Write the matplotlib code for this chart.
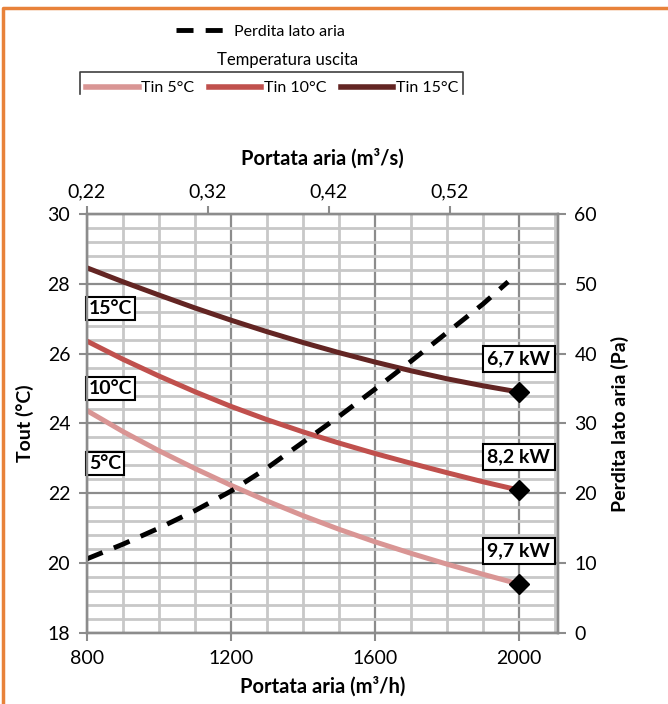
import numpy as np
import matplotlib
matplotlib.use('Agg')
import matplotlib.pyplot as plt
from matplotlib.lines import Line2D
from matplotlib.ticker import MultipleLocator, FuncFormatter

plt.rcParams['font.family'] = ['Lato', 'DejaVu Sans']

# portata aria (m3/h)
portata = [800, 900, 1000, 1100, 1200, 1300, 1400, 1500, 1600, 1700, 1800, 1900, 2000]
tout_5 = [24.37, 23.77, 23.22, 22.71, 22.23, 21.78, 21.36, 20.97, 20.61, 20.28, 19.97, 19.68, 19.40]
tout_10 = [26.36, 25.84, 25.36, 24.91, 24.49, 24.11, 23.76, 23.44, 23.14, 22.86, 22.59, 22.33, 22.09]
tout_15 = [28.46, 28.06, 27.68, 27.31, 26.96, 26.63, 26.32, 26.03, 25.76, 25.51, 25.28, 25.08, 24.90]

# perdita lato aria (Pa)
portata_pa = [800, 900, 1000, 1100, 1200, 1300, 1400, 1500, 1600, 1700, 1800, 1900, 1970]
perdita = [10.6, 12.7, 15.0, 17.5, 20.3, 23.6, 27.3, 31.0, 34.9, 38.9, 43.0, 47.1, 50.3]

serie_nomi = ['Tin 5°C', 'Tin 10°C', 'Tin 15°C']
serie_label = ['5°C', '10°C', '15°C']
potenze = ['9,7 kW', '8,2 kW', '6,7 kW']
colori = ['#d99594', '#c0504d', '#632523']

top_ticks = [0.22, 0.32, 0.42, 0.52]

fig = plt.figure(figsize=(6.68, 7.04), dpi=100)
ax = fig.add_axes([0.130, 0.101, 0.705, 0.595])

grid_major = '#8c8c8c'
grid_minor = '#c8c8c8'

ax.set_xlim(800, 2108)
ax.set_ylim(18, 30)
ax.xaxis.set_major_locator(MultipleLocator(400))
ax.xaxis.set_minor_locator(MultipleLocator(100))
ax.yaxis.set_major_locator(MultipleLocator(2))
ax.yaxis.set_minor_locator(MultipleLocator(0.4))
ax.grid(which='minor', color=grid_minor, lw=2, zorder=0)
ax.grid(which='major', color=grid_major, lw=1.6, zorder=0)
ax.set_axisbelow(True)
ax.tick_params(which='minor', length=0)
ax.tick_params(which='major', length=6, width=1.5, color=grid_major,
               labelsize=14, pad=6)
for s in ax.spines.values():
    s.set_color(grid_major)
    s.set_linewidth(1.6)

serie = [tout_5, tout_10, tout_15]
for i, ys in enumerate(serie):
    ax.plot(portata, ys, color=colori[i], lw=3.6, solid_capstyle='butt', zorder=3)
    ax.plot(portata[-1], ys[-1], marker='D', ms=10, color='black', zorder=4)
    ax.text(portata[-1], ys[-1] + 0.95, potenze[i], ha='center', va='center',
            fontsize=14, fontweight='bold', zorder=6,
            bbox=dict(boxstyle='square,pad=0.22', fc='white', ec='black', lw=1.5))

label_y = [22.86, 25.0, 27.3]
for i, t in enumerate(serie_label):
    ax.text(806, label_y[i], t, ha='left', va='center', fontsize=14,
            fontweight='bold', zorder=6,
            bbox=dict(boxstyle='square,pad=0.15', fc='white', ec='black', lw=1.5))

ax.set_ylabel('Tout (°C)', fontsize=14, fontweight='bold', labelpad=10)
ax.set_xlabel('Portata aria (m³/h)', fontsize=14.5, fontweight='bold', labelpad=7)

# asse destro: perdita
ax2 = ax.twinx()
ax2.set_ylim(0, 60)
ax2.yaxis.set_major_locator(MultipleLocator(10))
ax2.tick_params(which='major', length=6, width=1.5, color=grid_major,
                labelsize=14, pad=6)
ax2.plot(portata_pa, perdita, color='black', lw=3.5, dashes=(3.5, 2.5), zorder=5)
ax2.set_ylabel('Perdita lato aria (Pa)', fontsize=14, fontweight='bold', labelpad=10)
for s in ax2.spines.values():
    s.set_color(grid_major)
    s.set_linewidth(1.6)

# asse superiore: m3/s
ax3 = ax.twiny()
ax3.set_xlim(0.22, 0.609)
ax3.set_xticks(top_ticks)
ax3.xaxis.set_major_formatter(FuncFormatter(lambda v, p: ('%.2f' % v).replace('.', ',')))
ax3.tick_params(which='major', length=6, width=1.5, color=grid_major,
                labelsize=14, pad=4)
ax3.set_xlabel('Portata aria (m³/s)', fontsize=14.5, fontweight='bold', labelpad=13)
for s in ax3.spines.values():
    s.set_color(grid_major)
    s.set_linewidth(1.6)

# legende
h1 = [Line2D([], [], color='black', lw=3.5, dashes=(3.5, 2.5))]
fig.legend(h1, ['Perdita lato aria'], loc='center', bbox_to_anchor=(0.39, 0.955),
           frameon=False, fontsize=11.5, handlelength=3.4, handletextpad=0.2)

h2 = [Line2D([], [], color=c, lw=4) for c in colori]
fig.legend(h2, serie_nomi, loc='center', bbox_to_anchor=(272 / 668, 1 - 88 / 704),
           ncol=3, frameon=False, fontsize=11.5, handlelength=3.3,
           handletextpad=0.15, columnspacing=0.9, borderpad=0, borderaxespad=0)
fig.text(288 / 668, 1 - 60 / 704, 'Temperatura uscita', ha='center', va='center',
         fontsize=12)

# parentesi della legenda
fig.add_artist(Line2D([80 / 668, 80 / 668, 463 / 668, 463 / 668],
                      [1 - 94 / 704, 1 - 72 / 704, 1 - 72 / 704, 1 - 94 / 704],
                      color='#404040', lw=1.2, transform=fig.transFigure))

# cornice arancione
fig.add_artist(Line2D([3 / 668, 3 / 668, 1.0], [0.0, 1 - 8 / 704, 1 - 8 / 704],
                      color='#e8823a', lw=2.5, transform=fig.transFigure))

fig.savefig('out.png', dpi=100)
